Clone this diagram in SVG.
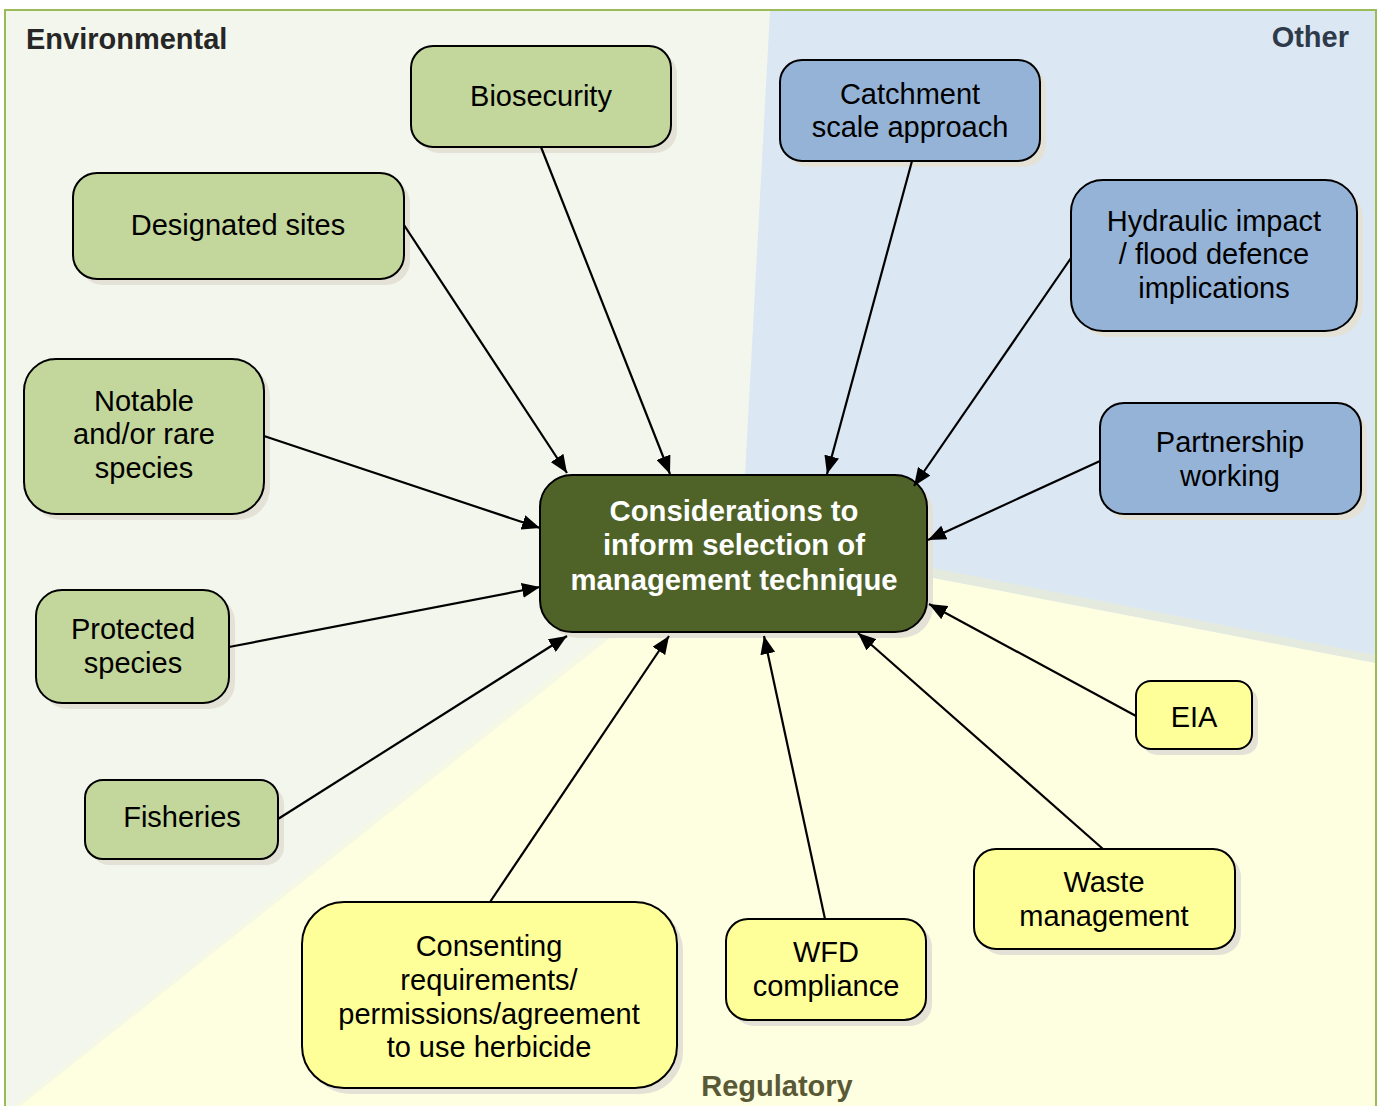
<svg xmlns="http://www.w3.org/2000/svg" width="1379" height="1106" viewBox="0 0 1379 1106">
<style>
.n{stroke:#000;stroke-width:2}
.g{fill:#c3d69b}
.b{fill:#95b3d7}
.y{fill:#ffff99}
.c{fill:#4f6228}
.sh{fill:#e4e2d7}
.t{font-family:"Liberation Sans",Arial,sans-serif;font-size:29px;fill:#000;text-anchor:middle}
.ct{font-family:"Liberation Sans",Arial,sans-serif;font-size:29.3px;font-weight:bold;fill:#fff;text-anchor:middle}
.h{font-family:"Liberation Sans",Arial,sans-serif;font-size:29px;font-weight:bold}
.e{stroke:#000;stroke-width:2.2;fill:none;marker-end:url(#ah)}
</style>
<defs>
<marker id="ah" markerUnits="userSpaceOnUse" markerWidth="19" markerHeight="15" refX="18" refY="7.5" orient="auto">
<path d="M0,0 L18,7.5 L0,15 z" fill="#000"/>
</marker>
</defs>
<g id="background">
<rect x="0" y="0" width="1379" height="1106" fill="#ffffff"/>
<rect x="5" y="10" width="1371" height="1100" fill="#f3f6ed" stroke="#9bbb59" stroke-width="2"/>
<polygon points="770,11 1375,11 1375,663 933,578 745,560 745,475" fill="#dce7f4"/>
<polygon points="933,568 1375,655 1375,663 933,578" fill="#e4ebde"/>
<polygon points="18,1106 616,630 933,578 1375,663 1375,1106" fill="#fefee0"/>
<polygon points="14,1106 614,627 620,630 20,1106" fill="#f6f8e6"/>
<text class="h" x="26" y="49" fill="#262626">Environmental</text>
<text class="h" x="1349" y="47" fill="#2e3a4a" text-anchor="end">Other</text>
<text class="h" x="777" y="1096" fill="#595936" text-anchor="middle">Regulatory</text>
</g>
<g id="biosecurity">
<rect class="sh" x="417" y="52" width="260" height="101" rx="22"/>
<rect class="n g" x="411" y="46" width="260" height="101" rx="22"/>
<text class="t" x="541" y="106">Biosecurity</text>
</g>
<g id="designated-sites">
<rect class="sh" x="79" y="179" width="331" height="106" rx="24"/>
<rect class="n g" x="73" y="173" width="331" height="106" rx="24"/>
<text class="t" x="238" y="235">Designated sites</text>
</g>
<g id="notable-species">
<rect class="sh" x="30" y="365" width="240" height="155" rx="32"/>
<rect class="n g" x="24" y="359" width="240" height="155" rx="32"/>
<text class="t" x="144" y="411">Notable</text>
<text class="t" x="144" y="444">and/or rare</text>
<text class="t" x="144" y="478">species</text>
</g>
<g id="protected-species">
<rect class="sh" x="42" y="596" width="193" height="113" rx="26"/>
<rect class="n g" x="36" y="590" width="193" height="113" rx="26"/>
<text class="t" x="133" y="639">Protected</text>
<text class="t" x="133" y="673">species</text>
</g>
<g id="fisheries">
<rect class="sh" x="91" y="786" width="193" height="79" rx="18"/>
<rect class="n g" x="85" y="780" width="193" height="79" rx="18"/>
<text class="t" x="182" y="827">Fisheries</text>
</g>
<g id="catchment">
<rect class="sh" x="786" y="66" width="260" height="101" rx="22"/>
<rect class="n b" x="780" y="60" width="260" height="101" rx="22"/>
<text class="t" x="910" y="104">Catchment</text>
<text class="t" x="910" y="137">scale approach</text>
</g>
<g id="hydraulic">
<rect class="sh" x="1077" y="186" width="286" height="151" rx="32"/>
<rect class="n b" x="1071" y="180" width="286" height="151" rx="32"/>
<text class="t" x="1214" y="231">Hydraulic impact</text>
<text class="t" x="1214" y="264">/ flood defence</text>
<text class="t" x="1214" y="298">implications</text>
</g>
<g id="partnership">
<rect class="sh" x="1106" y="409" width="261" height="111" rx="24"/>
<rect class="n b" x="1100" y="403" width="261" height="111" rx="24"/>
<text class="t" x="1230" y="452">Partnership</text>
<text class="t" x="1230" y="486">working</text>
</g>
<g id="central">
<rect class="sh" x="546" y="481" width="387" height="157" rx="32"/>
<rect class="n c" x="540" y="475" width="387" height="157" rx="32"/>
<text class="ct" x="734" y="521">Considerations to</text>
<text class="ct" x="734" y="555">inform selection of</text>
<text class="ct" x="734" y="590">management technique</text>
</g>
<g id="eia">
<rect class="sh" x="1142" y="687" width="116" height="68" rx="15"/>
<rect class="n y" x="1136" y="681" width="116" height="68" rx="15"/>
<text class="t" x="1194" y="727">EIA</text>
</g>
<g id="waste">
<rect class="sh" x="980" y="855" width="261" height="100" rx="22"/>
<rect class="n y" x="974" y="849" width="261" height="100" rx="22"/>
<text class="t" x="1104" y="892">Waste</text>
<text class="t" x="1104" y="926">management</text>
</g>
<g id="wfd">
<rect class="sh" x="732" y="925" width="200" height="101" rx="22"/>
<rect class="n y" x="726" y="919" width="200" height="101" rx="22"/>
<text class="t" x="826" y="962">WFD</text>
<text class="t" x="826" y="996">compliance</text>
</g>
<g id="consenting">
<rect class="sh" x="308" y="908" width="375" height="186" rx="42"/>
<rect class="n y" x="302" y="902" width="375" height="186" rx="42"/>
<text class="t" x="489" y="956">Consenting</text>
<text class="t" x="489" y="990">requirements/</text>
<text class="t" x="489" y="1024">permissions/agreement</text>
<text class="t" x="489" y="1057">to use herbicide</text>
</g>
<g id="connectors">
<line class="e" x1="541" y1="147" x2="670" y2="474"/>
<line class="e" x1="404" y1="225" x2="567" y2="473"/>
<line class="e" x1="264" y1="436" x2="540" y2="528"/>
<line class="e" x1="229" y1="647" x2="540" y2="587"/>
<line class="e" x1="278" y1="819" x2="567" y2="636"/>
<line class="e" x1="912" y1="161" x2="827" y2="474"/>
<line class="e" x1="1071" y1="258" x2="914" y2="486"/>
<line class="e" x1="1100" y1="461" x2="928" y2="540"/>
<line class="e" x1="1136" y1="716" x2="929" y2="604"/>
<line class="e" x1="1103" y1="849" x2="858" y2="633"/>
<line class="e" x1="825" y1="919" x2="764" y2="636"/>
<line class="e" x1="490" y1="902" x2="669" y2="636"/>
</g>
</svg>
